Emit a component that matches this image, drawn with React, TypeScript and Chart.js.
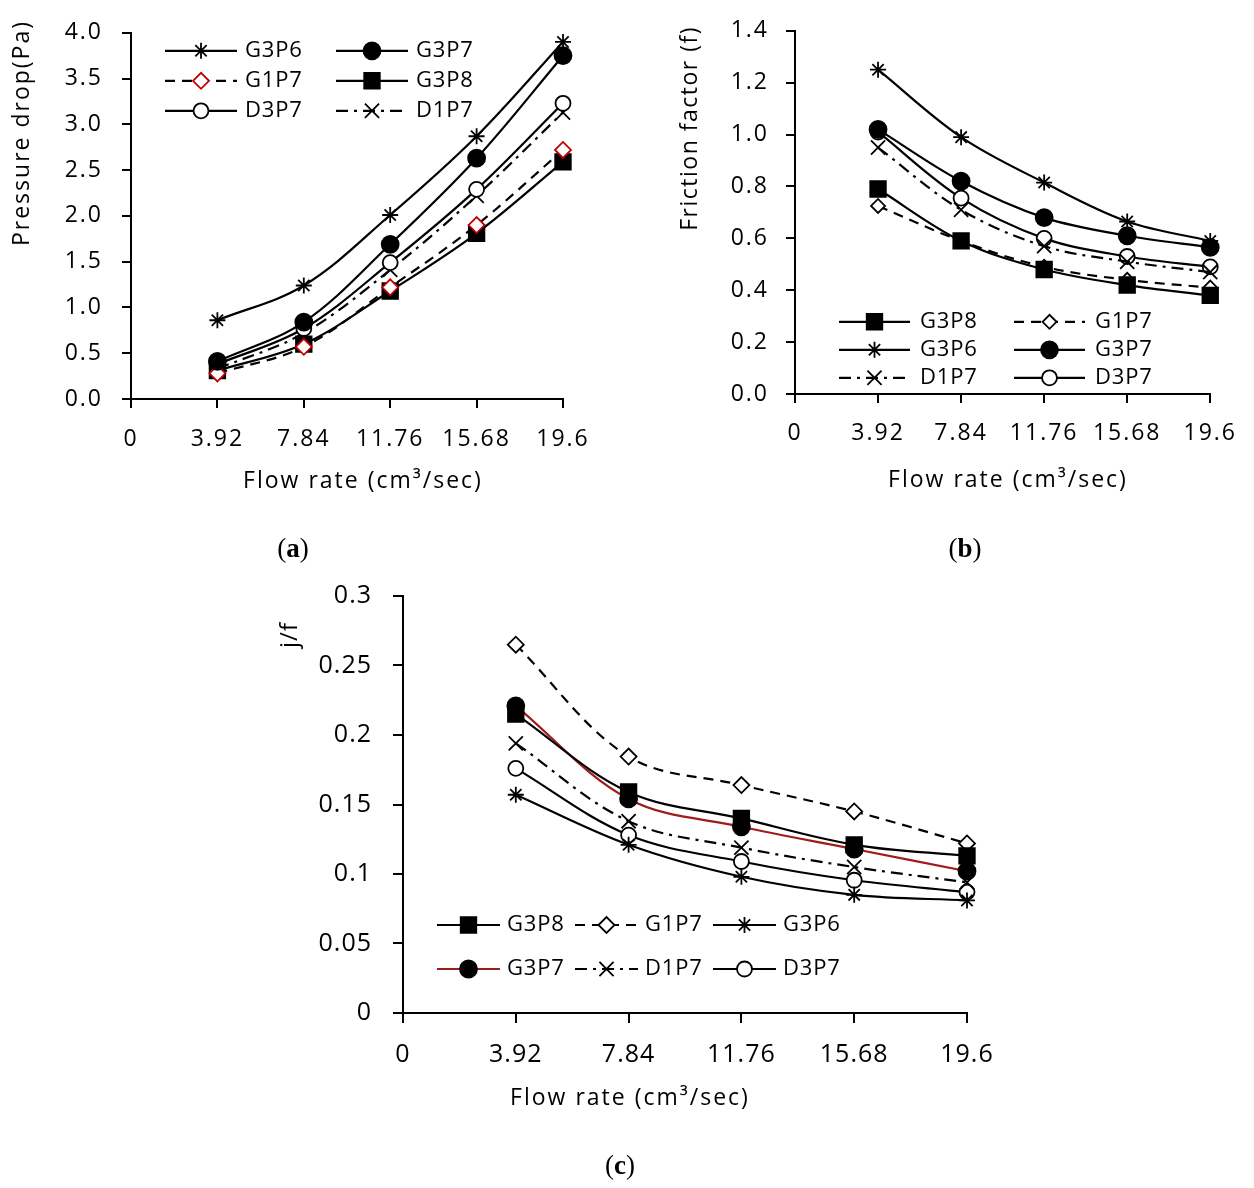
import React, { useEffect, useRef } from "react";
import { Chart, registerables } from "chart.js";
import { drawPoint } from "chart.js/helpers";

Chart.register(...registerables);

const FONT = "'Open Sans', 'DejaVu Sans', sans-serif";

// ---------- data ----------
const flowRates = [3.92, 7.84, 11.76, 15.68, 19.6];
const xTickLabels = ["0", "3.92", "7.84", "11.76", "15.68", "19.6"];

const yTicksA = ["0.0", "0.5", "1.0", "1.5", "2.0", "2.5", "3.0", "3.5", "4.0"];
const yTicksB = ["0.0", "0.2", "0.4", "0.6", "0.8", "1.0", "1.2", "1.4"];
const yTicksC = ["0", "0.05", "0.1", "0.15", "0.2", "0.25", "0.3"];

// (a) pressure drop (Pa)
const dpG3P6 = [0.86, 1.24, 2.01, 2.87, 3.9];
const dpG3P7 = [0.41, 0.84, 1.69, 2.63, 3.75];
const dpG1P7 = [0.28, 0.57, 1.22, 1.9, 2.72];
const dpG3P8 = [0.31, 0.6, 1.18, 1.81, 2.59];
const dpD3P7 = [0.38, 0.77, 1.49, 2.29, 3.23];
const dpD1P7 = [0.33, 0.72, 1.41, 2.22, 3.13];

// (b) friction factor
const ffG3P8 = [0.79, 0.59, 0.48, 0.42, 0.38];
const ffG1P7 = [0.725, 0.59, 0.49, 0.44, 0.41];
const ffG3P6 = [1.25, 0.99, 0.815, 0.665, 0.59];
const ffG3P7 = [1.02, 0.82, 0.68, 0.61, 0.565];
const ffD1P7 = [0.95, 0.71, 0.57, 0.51, 0.47];
const ffD3P7 = [1.01, 0.755, 0.6, 0.53, 0.49];

// (c) j/f
const jfG3P8 = [0.215, 0.159, 0.14, 0.121, 0.113];
const jfG1P7 = [0.265, 0.1845, 0.164, 0.145, 0.122];
const jfG3P6 = [0.157, 0.121, 0.098, 0.085, 0.081];
const jfG3P7 = [0.221, 0.154, 0.134, 0.118, 0.102];
const jfD1P7 = [0.194, 0.138, 0.119, 0.105, 0.094];
const jfD3P7 = [0.176, 0.128, 0.109, 0.0955, 0.087];

// ---------- styles ----------
type Sty = {
  dash: number[];
  pointStyle: string;
  radius: number;
  fill: string;
  stroke: string;
  line: string;
};
const STY: Record<string, Sty> = {
  G3P6: { dash: [], pointStyle: "star", radius: 8, fill: "#000", stroke: "#000", line: "#000" },
  G3P7: { dash: [], pointStyle: "circle", radius: 8.5, fill: "#000", stroke: "#000", line: "#000" },
  G1P7: { dash: [10, 7], pointStyle: "rectRot", radius: 8, fill: "#fff", stroke: "#000", line: "#000" },
  G3P8: { dash: [], pointStyle: "rect", radius: 11, fill: "#000", stroke: "#000", line: "#000" },
  D3P7: { dash: [], pointStyle: "circle", radius: 7.5, fill: "#fff", stroke: "#000", line: "#000" },
  D1P7: { dash: [12, 6, 3, 6], pointStyle: "crossRot", radius: 10, fill: "#000", stroke: "#000", line: "#000" },
};

function ds(label: string, values: number[], over: Partial<Sty> = {}) {
  const s = { ...STY[label], ...over };
  return {
    label,
    data: flowRates.map((x, i) => ({ x, y: values[i] })),
    borderColor: s.line,
    borderWidth: 2.2,
    borderDash: s.dash,
    tension: 0.35,
    pointStyle: s.pointStyle,
    pointRadius: s.radius,
    pointHoverRadius: s.radius,
    pointBackgroundColor: s.fill,
    pointBorderColor: s.stroke,
    pointBorderWidth: 1.8,
    fill: false,
    clip: false,
  };
}

// ---------- plugins ----------
const spacingPlugin = {
  id: "spacing",
  beforeLayout(chart: any, _a: any, opts: any) {
    chart.ctx.letterSpacing = opts.value || "0px";
  },
  beforeDraw(chart: any, _a: any, opts: any) {
    chart.ctx.letterSpacing = opts.value || "0px";
  },
};

const inLegendPlugin = {
  id: "inLegend",
  afterDraw(chart: any, _a: any, o: any) {
    const { ctx, chartArea } = chart;
    chart.data.datasets.forEach((d: any, i: number) => {
      const col = i % o.cols;
      const row = Math.floor(i / o.cols);
      const lx = chartArea.left + o.x0 + col * o.colW;
      const ly = chartArea.top + o.y0 + row * o.rowH;
      ctx.save();
      ctx.strokeStyle = d.borderColor;
      ctx.lineWidth = d.borderWidth;
      ctx.setLineDash(d.borderDash || []);
      ctx.beginPath();
      ctx.moveTo(lx, ly);
      ctx.lineTo(lx + o.lineLen, ly);
      ctx.stroke();
      ctx.setLineDash([]);
      ctx.fillStyle = d.pointBackgroundColor;
      ctx.strokeStyle = d.pointBorderColor;
      ctx.lineWidth = d.pointBorderWidth;
      drawPoint(
        ctx,
        { pointStyle: d.pointStyle, radius: d.pointRadius, borderWidth: d.pointBorderWidth, rotation: 0 } as any,
        lx + o.lineLen / 2,
        ly
      );
      ctx.fillStyle = "#000";
      ctx.font = `${o.size}px ${FONT}`;
      ctx.letterSpacing = o.ls;
      ctx.textAlign = "left";
      ctx.textBaseline = "middle";
      ctx.fillText(d.label, lx + o.lineLen + o.gap, ly);
      ctx.restore();
    });
  },
};

const axisTextPlugin = {
  id: "axisText",
  afterDraw(chart: any, _a: any, o: any) {
    const ctx = chart.ctx;
    (o.items || []).forEach((t: any) => {
      ctx.save();
      ctx.font = `${t.size}px ${FONT}`;
      ctx.letterSpacing = t.ls;
      ctx.fillStyle = "#000";
      ctx.translate(t.x, t.y);
      if (t.rotate) ctx.rotate(-Math.PI / 2);
      ctx.textAlign = t.align;
      ctx.textBaseline = "middle";
      ctx.fillText(t.text, 0, 0);
      ctx.restore();
    });
  },
};

// ---------- config ----------
type Layout = {
  yW: number;
  xH: number;
  padTop: number;
  padRight: number;
  tickSize: number;
  tickLen: number;
  xPad: number;
  yPad: number;
  ls: string;
};

function makeScales(yLabels: string[], L: Layout) {
  const yVals = yLabels.map((s) => parseFloat(s));
  const grid = {
    display: true,
    drawOnChartArea: false,
    drawTicks: true,
    tickLength: L.tickLen,
    tickWidth: 2,
    tickColor: "#000",
    color: "#000",
    lineWidth: 2,
  };
  const border = { display: true, color: "#000", width: 2 };
  return {
    x: {
      type: "linear",
      min: 0,
      max: parseFloat(xTickLabels[xTickLabels.length - 1]),
      afterFit: (s: any) => {
        s.height = L.xH;
      },
      afterBuildTicks: (s: any) => {
        s.ticks = xTickLabels.map((v) => ({ value: parseFloat(v) }));
      },
      ticks: {
        autoSkip: false,
        maxRotation: 0,
        minRotation: 0,
        padding: L.xPad,
        color: "#000",
        font: { size: L.tickSize, family: FONT },
        callback: (_v: any, i: number) => xTickLabels[i],
      },
      grid,
      border,
    },
    y: {
      type: "linear",
      min: yVals[0],
      max: yVals[yVals.length - 1],
      afterFit: (s: any) => {
        s.width = L.yW;
      },
      afterBuildTicks: (s: any) => {
        s.ticks = yVals.map((v) => ({ value: v }));
      },
      ticks: {
        autoSkip: false,
        padding: L.yPad,
        color: "#000",
        font: { size: L.tickSize, family: FONT },
        callback: (_v: any, i: number) => yLabels[i],
      },
      grid,
      border,
    },
  };
}

function makeConfig(datasets: any[], yLabels: string[], L: Layout, legend: any, titles: any[]) {
  return {
    type: "line",
    data: { datasets },
    options: {
      responsive: false,
      maintainAspectRatio: false,
      animation: false,
      devicePixelRatio: 1,
      layout: { padding: { top: L.padTop, right: L.padRight, left: 0, bottom: 0 } },
      scales: makeScales(yLabels, L),
      plugins: {
        legend: { display: false },
        tooltip: { enabled: false },
        spacing: { value: L.ls },
        inLegend: legend,
        axisText: { items: titles },
      },
    },
    plugins: [spacingPlugin, inLegendPlugin, axisTextPlugin],
  };
}

const FLOW_TITLE = "Flow rate (cm\u00B3/sec)";

function configA() {
  return makeConfig(
    [
      ds("G3P6", dpG3P6),
      ds("G3P7", dpG3P7),
      ds("G1P7", dpG1P7, { stroke: "#C00000" }),
      ds("G3P8", dpG3P8),
      ds("D3P7", dpD3P7),
      ds("D1P7", dpD1P7),
    ],
    yTicksA,
    { yW: 131, xH: 106, padTop: 20, padRight: 57, tickSize: 23, tickLen: 9, xPad: 18, yPad: 19, ls: "2px" },
    { cols: 2, x0: 34, y0: 18, colW: 171, rowH: 30, lineLen: 72, gap: 8, size: 22, ls: "0.8px" },
    [
      { text: "Pressure drop(Pa)", x: 22.5, y: 20, rotate: true, align: "right", size: 23, ls: "2px" },
      { text: FLOW_TITLE, x: 363, y: 481, rotate: false, align: "center", size: 23, ls: "2px" },
    ]
  );
}

function configB() {
  return makeConfig(
    [
      ds("G3P8", ffG3P8),
      ds("G1P7", ffG1P7, { radius: 7 }),
      ds("G3P6", ffG3P6),
      ds("G3P7", ffG3P7),
      ds("D1P7", ffD1P7),
      ds("D3P7", ffD3P7),
    ],
    yTicksB,
    { yW: 155, xH: 111, padTop: 22, padRight: 34, tickSize: 23, tickLen: 9, xPad: 17, yPad: 17, ls: "2px" },
    { cols: 2, x0: 44, y0: 291, colW: 175, rowH: 28, lineLen: 71, gap: 10, size: 22, ls: "0.8px" },
    [
      { text: "Friction factor (f)", x: 50, y: 26, rotate: true, align: "right", size: 23, ls: "1.5px" },
      { text: FLOW_TITLE, x: 368, y: 480, rotate: false, align: "center", size: 23, ls: "2px" },
    ]
  );
}

function configC() {
  return makeConfig(
    [
      ds("G3P8", jfG3P8),
      ds("G1P7", jfG1P7),
      ds("G3P6", jfG3P6),
      ds("G3P7", jfG3P7, { line: "#A01C1C" }),
      ds("D1P7", jfD1P7),
      ds("D3P7", jfD3P7),
    ],
    yTicksC,
    { yW: 143, xH: 147, padTop: 34, padRight: 53, tickSize: 25, tickLen: 10, xPad: 17, yPad: 21, ls: "1px" },
    { cols: 3, x0: 34, y0: 329, colW: 138, rowH: 44, lineLen: 63, gap: 7, size: 22, ls: "0.8px" },
    [
      { text: "j/f", x: 30, y: 75, rotate: true, align: "center", size: 24, ls: "1px" },
      { text: FLOW_TITLE, x: 370, y: 538, rotate: false, align: "center", size: 23, ls: "2px" },
    ]
  );
}

function ChartBox(props: { left: number; top: number; width: number; height: number; make: () => any }) {
  const ref = useRef<HTMLCanvasElement>(null);
  useEffect(() => {
    const chart = new Chart(ref.current as HTMLCanvasElement, props.make());
    return () => chart.destroy();
  }, []);
  return (
    <div style={{ position: "absolute", left: props.left, top: props.top, width: props.width, height: props.height }}>
      <canvas
        ref={ref}
        width={props.width}
        height={props.height}
        style={{ width: props.width, height: props.height, display: "block" }}
      />
    </div>
  );
}

function Caption(props: { x: number; y: number; letter: string }) {
  return (
    <div
      style={{
        position: "absolute",
        left: props.x - 40,
        top: props.y - 17,
        width: 80,
        height: 34,
        lineHeight: "34px",
        textAlign: "center",
        fontFamily: "'Liberation Serif', 'DejaVu Serif', serif",
        fontSize: 27,
        color: "#000",
      }}
    >
      (<b>{props.letter}</b>)
    </div>
  );
}

export default function App() {
  return (
    <div style={{ position: "absolute", left: 0, top: 0, width: 1254, height: 1188, background: "#fff", overflow: "hidden" }}>
      <ChartBox left={0} top={0} width={620} height={505} make={configA} />
      <ChartBox left={640} top={0} width={614} height={505} make={configB} />
      <ChartBox left={260} top={560} width={760} height={600} make={configC} />
      <Caption x={293} y={548} letter="a" />
      <Caption x={965} y={548} letter="b" />
      <Caption x={620} y={1165} letter="c" />
    </div>
  );
}
